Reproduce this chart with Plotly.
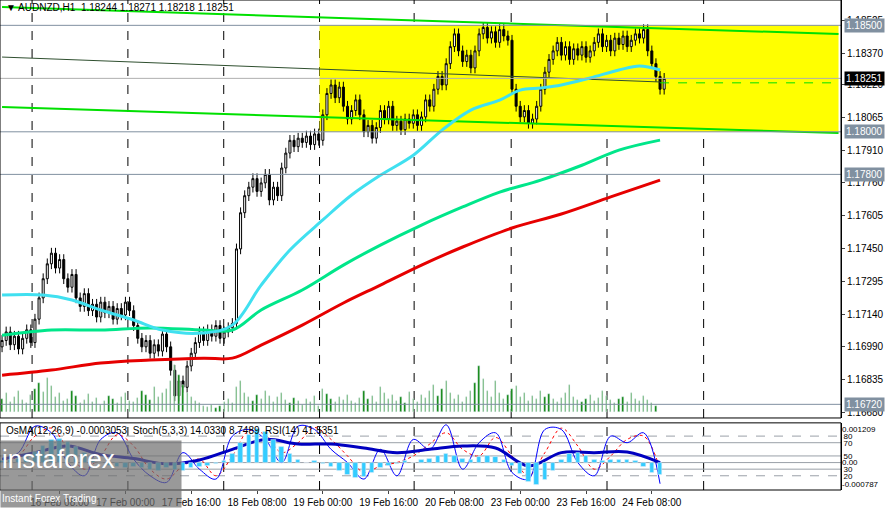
import plotly.graph_objects as go

## PRICE DATA (H1 closes)
closes = [1.1702, 1.1706, 1.1700, 1.1704, 1.1698, 1.1703, 1.1707, 1.1701,
          1.1712, 1.1722, 1.1731,
          1.1738, 1.1743, 1.1736, 1.1740,
          1.1731, 1.1727, 1.1733,
          1.1722, 1.1718, 1.1724, 1.1716, 1.1719, 1.1713, 1.1720, 1.1715, 1.1718, 1.1712, 1.1717, 1.1714, 1.1720, 1.1716,
          1.1709, 1.1703, 1.1699, 1.1702, 1.1696, 1.1700, 1.1697, 1.1705, 1.1699,
          1.1688, 1.1676, 1.1683, 1.1680,
          1.1690, 1.1696, 1.1701, 1.1706, 1.1702,
          1.1707, 1.1704, 1.1709, 1.1703, 1.1706, 1.1708, 1.1710,
          1.1745, 1.1762, 1.1770, 1.1774,
          1.1778, 1.1772, 1.1776, 1.1780, 1.1768, 1.1774, 1.1770,
          1.1783, 1.1790, 1.1796, 1.1793, 1.1797,
          1.1795, 1.1798, 1.1794, 1.1799, 1.1796,
          1.1808, 1.1818, 1.1822, 1.1816,
          1.1821, 1.1812, 1.1806, 1.1810, 1.1815,
          1.1808, 1.1800, 1.1803, 1.1797, 1.1802,
          1.1810, 1.1806, 1.1812, 1.1803, 1.1805, 1.1801, 1.1806, 1.1804, 1.1808, 1.1803,
          1.1807, 1.1815, 1.1812, 1.1820, 1.1826, 1.1822,
          1.1832, 1.1840, 1.1846, 1.1838,
          1.1833, 1.1836, 1.1830, 1.1838,
          1.1846, 1.1849, 1.1844, 1.1847, 1.1842, 1.1848, 1.1845, 1.1843,
          1.1820, 1.1812, 1.1807, 1.1810, 1.1804, 1.1806,
          1.1812, 1.1820, 1.1828, 1.1834,
          1.1838, 1.1842, 1.1836, 1.1840, 1.1834, 1.1839, 1.1836, 1.1840,
          1.1835, 1.1838, 1.1842, 1.1846, 1.1840, 1.1843,
          1.1838, 1.1844, 1.1841, 1.1845, 1.1840, 1.1843, 1.1846,
          1.1844, 1.1848, 1.1838, 1.1832, 1.1826, 1.1820, 1.18251]
first_open = 1.1699
wick = 0.00025

volumes = [12, 18, 9, 14, 20, 11, 8, 16, 22, 28, 19, 33, 25, 14, 18, 10, 12, 20,
           15, 8, 11, 17, 9, 13, 7, 10, 15, 12, 8, 14, 18, 10,
           9, 13, 20, 16, 11, 24, 14, 18, 22, 30, 45, 36, 26, 18, 14, 10, 8, 6,
           5, 7, 4, 6, 9, 12, 8, 24, 30, 18, 14, 10, 16, 12, 20, 15, 9,
           14, 18, 11, 8, 13, 10, 7, 12, 9, 15, 6, 22, 17, 12, 9, 14, 11, 16,
           10, 8, 13, 20, 12, 15, 9, 24, 18, 12, 16, 10, 14, 8, 19, 12,
           9, 16, 13, 20, 26, 15, 22, 30, 18, 12, 16, 9, 14, 20, 28, 44, 32, 20,
           14, 30, 18, 12, 16, 22, 25, 14, 18, 10, 15, 12, 20, 14, 17, 12,
           9, 13, 18, 26, 14, 11, 9, 12, 16, 10, 13, 20, 15, 11, 8, 12, 14, 9,
           18, 12, 10, 15, 11, 8, 6]

## MOVING AVERAGES (bar index, price)
ma_cyan_x = [0, 10, 17, 24, 32, 39, 49, 56, 63, 70, 78, 85, 92, 100, 107, 114, 121, 126, 131, 136, 143, 150, 155, 160]
ma_cyan = [1.17233, 1.17233, 1.17210, 1.17163, 1.17116, 1.17069, 1.17055, 1.17092, 1.17280, 1.17445, 1.17586, 1.17703,
           1.17796, 1.17890, 1.18008, 1.18102, 1.18149, 1.18196, 1.18206, 1.18220, 1.18253, 1.18290, 1.18309, 1.18290]
ma_green_x = [0, 12, 24, 36, 49, 56, 63, 73, 83, 92, 102, 112, 121, 131, 141, 150, 160]
ma_green = [1.17044, 1.17069, 1.17069, 1.17079, 1.17069, 1.17069, 1.17163, 1.17257, 1.17374, 1.17468, 1.17562,
            1.17647, 1.17717, 1.17773, 1.17843, 1.17914, 1.17961]
ma_red_x = [0, 12, 24, 36, 49, 56, 63, 73, 83, 92, 102, 112, 124, 136, 148, 160]
ma_red = [1.16857, 1.16881, 1.16914, 1.16928, 1.16937, 1.16937, 1.16998, 1.17092, 1.17196, 1.17280, 1.17374,
          1.17459, 1.17548, 1.17614, 1.17694, 1.17773]

## CHANNEL LINES (bar index, price)
chan_x = [0, 203.4]
chan_top = [1.18586, 1.18459]
chan_mid_x = [0, 160]
chan_mid = [1.18351, 1.18234]
chan_bot = [1.18116, 1.17994]

## LEVELS
levels = [1.18500, 1.18000, 1.17800, 1.16720]
last_price = 1.18251
box_lo, box_hi = 1.18000, 1.18500
box_start = 77.2

## INDICATORS
stoch_x = list(range(0, 161, 4))
stoch = [45, 55, 95, 85, 40, 20, 75, 85, 45, 20, 10, 55, 30, 15, 80, 90, 75, 40, 95, 90, 60,
         40, 15, 60, 20, 75, 60, 97, 30, 70, 85, 25, 15, 90, 90, 40, 20, 80, 70, 85, 8]
stoch_sig = [40, 50, 80, 92, 60, 30, 50, 82, 65, 30, 15, 35, 45, 20, 50, 88, 82, 55, 70, 93, 75,
             50, 25, 35, 40, 50, 68, 85, 60, 50, 78, 50, 20, 55, 92, 65, 30, 50, 75, 80, 30]
rsi_x = list(range(0, 161, 8))
rsi = [45, 55, 65, 52, 46, 38, 44, 60, 75, 68, 68, 62, 55, 60, 65, 62, 35, 55, 55, 56, 40]
osma_x = list(range(0, 161, 2))
osma = [5, 10, 15, 20, 40, 60, 80, 85, 75, 55, 35, 15, 0, -10, -15, -20, -15, -20, -25, -30, -20,
        -25, -30, -20, -15, -10, -5, 5, 30, 70, 100, 120, 110, 80, 55, 30, 10, 0, 5, -5, -15,
        -30, -45, -55, -50, -35, -20, -10, -5, 5, 0, 10, 15, 25, 30, 25, 15, 10, 20, 25, 20, 10, -10,
        -40, -70, -80, -60, -30, 10, 30, 35, 25, 10, 5, 10, 10, 8, 5, -15, -35, -45]  # x1e-5

tick_idx = [-2, 14, 30, 46, 62, 78, 94, 110, 126, 142, 158]
tick_txt = ['13 Feb 2026', '16 Feb 08:00', '17 Feb 00:00', '17 Feb 16:00', '18 Feb 08:00', '19 Feb 00:00',
            '19 Feb 16:00', '20 Feb 08:00', '23 Feb 00:00', '23 Feb 16:00', '24 Feb 08:00']
price_ticks = [1.18525, 1.18370, 1.18220, 1.18065, 1.17910, 1.17760, 1.17605, 1.17450, 1.17295,
               1.17140, 1.16990, 1.16835, 1.16680]
grid_x = [7.3, 30.6, 53.9, 77.2, 100.2, 123.8, 147.1, 170.6]

idx = list(range(len(closes)))
opens = [first_open] + closes[:-1]
highs = [max(o, c) + wick for o, c in zip(opens, closes)]
lows = [min(o, c) - wick for o, c in zip(opens, closes)]

XR = [-0.5, 204]
FONT = 'Liberation Sans'
fig = go.Figure()

fig.add_trace(go.Bar(x=idx, y=volumes[:len(idx)], marker_color='#008000', width=0.3,
                     yaxis='y3', xaxis='x', hoverinfo='skip'))
fig.add_trace(go.Scatter(x=chan_x, y=chan_top, mode='lines', line=dict(color='#00e000', width=2)))
fig.add_trace(go.Scatter(x=chan_mid_x, y=chan_mid, mode='lines', line=dict(color='#2f4f2f', width=1)))
fig.add_trace(go.Scatter(x=chan_x, y=chan_bot, mode='lines', line=dict(color='#00e000', width=2)))
fig.add_trace(go.Scatter(x=[160, 203.4], y=[1.18230, 1.18230], mode='lines',
                         line=dict(color='#00e000', width=1, dash='dash')))
fig.add_trace(go.Scatter(x=ma_red_x, y=ma_red, mode='lines', line=dict(color='#e60000', width=3, shape='spline')))
fig.add_trace(go.Scatter(x=ma_green_x, y=ma_green, mode='lines', line=dict(color='#00e68a', width=3, shape='spline')))
fig.add_trace(go.Scatter(x=ma_cyan_x, y=ma_cyan, mode='lines', line=dict(color='#40e0f0', width=3, shape='spline')))
fig.add_trace(go.Candlestick(x=idx, open=opens, high=highs, low=lows, close=closes,
                             increasing=dict(line=dict(color='black', width=1), fillcolor='white'),
                             decreasing=dict(line=dict(color='black', width=1), fillcolor='black'),
                             whiskerwidth=0))

# indicator pane
fig.add_trace(go.Bar(x=osma_x, y=osma, marker_color='#33ccff', width=1.1, xaxis='x2', yaxis='y4'))
fig.add_trace(go.Scatter(x=stoch_x, y=stoch_sig, mode='lines', xaxis='x2', yaxis='y2',
                         line=dict(color='#ff0000', width=1, dash='dot', shape='spline')))
fig.add_trace(go.Scatter(x=stoch_x, y=stoch, mode='lines', xaxis='x2', yaxis='y2',
                         line=dict(color='#0000ff', width=1, shape='spline')))
fig.add_trace(go.Scatter(x=rsi_x, y=rsi, mode='lines', xaxis='x2', yaxis='y2',
                         line=dict(color='#0000c0', width=3, shape='spline')))

shapes = [dict(type='rect', xref='x', yref='y', x0=box_start, x1=203.4, y0=box_lo, y1=box_hi,
               fillcolor='#ffff00', line=dict(width=0), layer='below')]
for gx in grid_x:
    shapes.append(dict(type='line', xref='x', yref='paper', x0=gx, x1=gx, y0=0, y1=1,
                       line=dict(color='black', width=1, dash='dash'), layer='below'))
for lv in levels:
    shapes.append(dict(type='line', xref='paper', yref='y', x0=0, x1=1, y0=lv, y1=lv,
                       line=dict(color='#8090a0', width=1)))
shapes.append(dict(type='line', xref='paper', yref='y', x0=0, x1=1, y0=last_price, y1=last_price,
                   line=dict(color='#b0b0b0', width=1)))
for lv, ds in [(80, 'dash'), (70, 'solid'), (50, 'solid'), (30, 'solid'), (20, 'dash')]:
    shapes.append(dict(type='line', xref='paper', yref='y2', x0=0, x1=1, y0=lv, y1=lv,
                       line=dict(color='#9aa0a8', width=1, dash=ds), layer='below'))
shapes.append(dict(type='line', xref='paper', yref='y4', x0=0, x1=1, y0=0, y1=0,
                   line=dict(color='#9aa0a8', width=1), layer='below'))
# pane borders
shapes.append(dict(type='rect', xref='paper', yref='paper', x0=0, x1=1, y0=0.147, y1=1.0,
                   line=dict(color='black', width=1)))
shapes.append(dict(type='rect', xref='paper', yref='paper', x0=0, x1=1, y0=0, y1=0.137,
                   line=dict(color='black', width=1)))

annos = [dict(xref='paper', yref='paper', x=0.005, y=1.0, xanchor='left', yanchor='top', showarrow=False,
              text='▼ AUDNZD,H1  1.18244 1.18271 1.18218 1.18251', font=dict(size=10, color='black')),
         dict(xref='paper', yref='paper', x=0.005, y=0.137, xanchor='left', yanchor='top', showarrow=False,
              text='OsMA(12,26,9) -0.0003053  Stoch(5,3,3) 14.0330 8.7489  RSI(14) 41.5351',
              font=dict(size=10, color='black'))]
for lv in levels:
    annos.append(dict(xref='paper', yref='y', x=1.003, y=lv, xanchor='left', showarrow=False,
                      text='%.5f' % lv, bgcolor='#8090a0', font=dict(size=10, color='white'), borderpad=1))
annos.append(dict(xref='paper', yref='y', x=1.003, y=last_price, xanchor='left', showarrow=False,
                  text='%.5f' % last_price, bgcolor='black', font=dict(size=10, color='white'), borderpad=1))
annos.append(dict(xref='paper', yref='paper', x=0, y=-0.037, xanchor='left', yanchor='bottom', showarrow=False,
                  text='instaforex<br><span style="font-size:10px">Instant Forex Trading</span>',
                  align='left', bgcolor='rgba(110,110,110,0.7)', font=dict(size=26, color='white'),
                  width=178, height=64))

fig.update_layout(
    width=886, height=508, margin=dict(l=0, r=45, t=0, b=18),
    paper_bgcolor='white', plot_bgcolor='white', showlegend=False,
    font=dict(family=FONT, size=10, color='black'),
    bargap=0, shapes=shapes, annotations=annos,
    xaxis=dict(domain=[0, 1], range=XR, showticklabels=False, showgrid=False, zeroline=False,
               rangeslider=dict(visible=False), anchor='y'),
    yaxis=dict(domain=[0.147, 1.0], range=[1.16656, 1.18619], side='right', tickvals=price_ticks,
               tickformat='.5f', ticks='outside', ticklen=3, showgrid=False, zeroline=False,
               showline=True, linecolor='black', tickfont=dict(size=10)),
    yaxis3=dict(overlaying='y', range=[-6, 398], visible=False),
    xaxis2=dict(domain=[0, 1], range=XR, anchor='y2', tickvals=tick_idx, ticktext=tick_txt,
                tickangle=0, ticks='outside', ticklen=3, showgrid=False, zeroline=False,
                tickfont=dict(size=10)),
    yaxis2=dict(domain=[0, 0.137], range=[-1.5, 100], side='right', tickvals=[20, 30, 50, 70, 80],
                showgrid=False, zeroline=False, showline=True, linecolor='black', tickfont=dict(size=8)),
    yaxis4=dict(overlaying='y2', range=[-98, 142], side='right', tickvals=[120.9, 0, -78.7],
                ticktext=['0.001209', '0.00', '-0.000787'], showgrid=False, zeroline=False,
                tickfont=dict(size=8)),
)

fig.write_html("out.html", config={'displayModeBar': False},
               post_script="document.body.style.margin='0';document.body.style.overflow='hidden';")
